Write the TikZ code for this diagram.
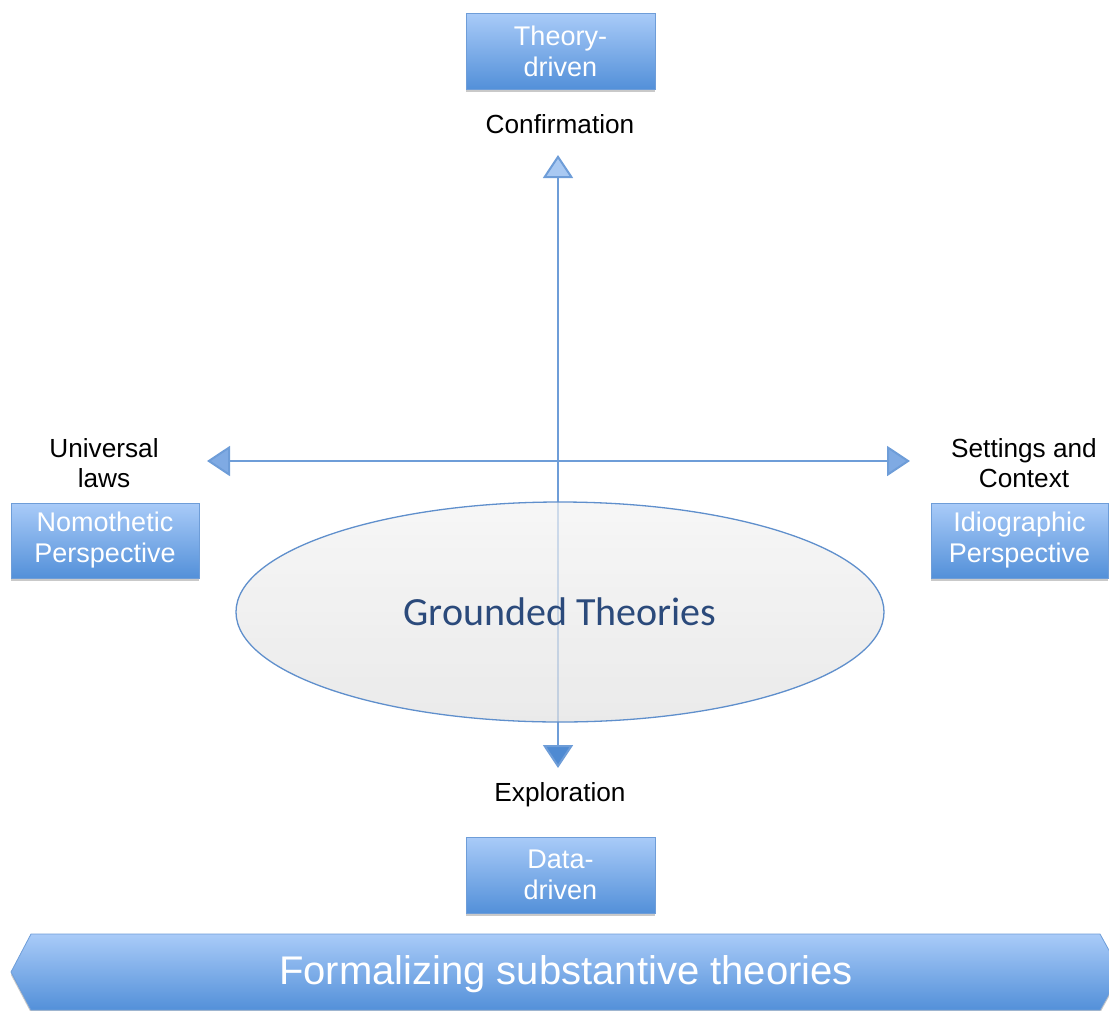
\documentclass[tikz,border=0pt]{standalone}
\usepackage{fontspec}
\setmainfont{Liberation Sans}
\newfontfamily\gtfont{Carlito}
\usetikzlibrary{arrows.meta,shapes.geometric,shadows}

\definecolor{boxtop}{HTML}{A9CBF8}
\definecolor{boxbot}{HTML}{5390D9}
\definecolor{boxedge}{HTML}{6E9DD8}
\definecolor{axiscol}{HTML}{6E9DD8}
\definecolor{headlight}{HTML}{A9C9F2}
\definecolor{headmid}{HTML}{7FAAE3}
\definecolor{headdark}{HTML}{4F8AD2}
\definecolor{gtblue}{HTML}{2B4A7B}
\definecolor{elledge}{HTML}{5F8FCC}
\definecolor{elltop}{HTML}{F3F3F3}
\definecolor{ellbot}{HTML}{E2E2E2}

\tikzset{
  perspbox/.style={rectangle, draw=boxedge, line width=0.8pt,
    top color=boxtop, bottom color=boxbot, text=white,
    align=center, inner sep=0pt,
    font=\fontsize{27}{31}\selectfont,
    drop shadow={shadow xshift=0pt, shadow yshift=-3pt, opacity=0.3, fill=black!70}},
  axislabel/.style={align=center, inner sep=0pt, text=black,
    font=\fontsize{26.2}{29.5}\selectfont},
  axisline/.style={draw=axiscol, line width=2pt},
}

\begin{document}
\begin{tikzpicture}[x=1pt, y=-1pt]
\useasboundingbox (0,0) rectangle (1109,1010);
\clip (0,0) rectangle (1109,1010);

% axis end points
\coordinate (vup)    at (558,155);
\coordinate (vdown)  at (558,768);
\coordinate (hleft)  at (207,461);
\coordinate (hright) at (910,461);

% the two axes
\draw[axisline,
  {Triangle[length=23pt,width=30pt,fill=headdark]}-{Triangle[length=23pt,width=30pt,fill=headlight]}]
  (vdown) -- (vup);
\draw[axisline,
  {Triangle[length=23pt,width=30pt,fill=headmid]}-{Triangle[length=23pt,width=30pt,fill=headmid]}]
  (hleft) -- (hright);

% central ellipse
\node (gt) [ellipse, draw=elledge, line width=1.3pt,
  top color=elltop, bottom color=ellbot, fill opacity=0.72, text opacity=1,
  minimum width=648pt, minimum height=220pt, inner sep=0pt,
  text=gtblue, font=\gtfont\fontsize{40}{44}\selectfont]
  at (560,612) {Grounded Theories};

% perspective boxes
\node (theory) [perspbox, minimum width=189pt, minimum height=76pt] at (560.5,51) {Theory-\\driven};
\node (data)   [perspbox, minimum width=189pt, minimum height=76pt] at (560.5,875) {Data-\\driven};
\node (nomo)   [perspbox, minimum width=188pt, minimum height=75pt] at (105,540.5) {Nomothetic\\Perspective};
\node (idio)   [perspbox, minimum width=177pt, minimum height=75pt] at (1019.5,540.5) {Idiographic\\Perspective};

% axis labels
\node (conf)  [axislabel] at (560,124) {Confirmation};
\node (expl)  [axislabel] at (560,795) {Exploration};
\node (univ)  [axislabel] at (104,463) {Universal\\laws};
\node (sett)  [axislabel] at (1024,463) {Settings and\\Context};

% bottom banner
\path[draw=boxedge, line width=0.8pt, top color=boxtop, bottom color=boxbot,
  drop shadow={shadow xshift=0pt, shadow yshift=-3pt, opacity=0.3, fill=black!70}]
  (31,934) -- (1100,934) -- (1121,972) -- (1100,1010) -- (31,1010) -- (11,972) -- cycle;
\node (banner) [text=white, inner sep=0pt, font=\fontsize{40}{44}\selectfont]
  at (566,974) {Formalizing substantive theories};
\end{tikzpicture}
\end{document}
